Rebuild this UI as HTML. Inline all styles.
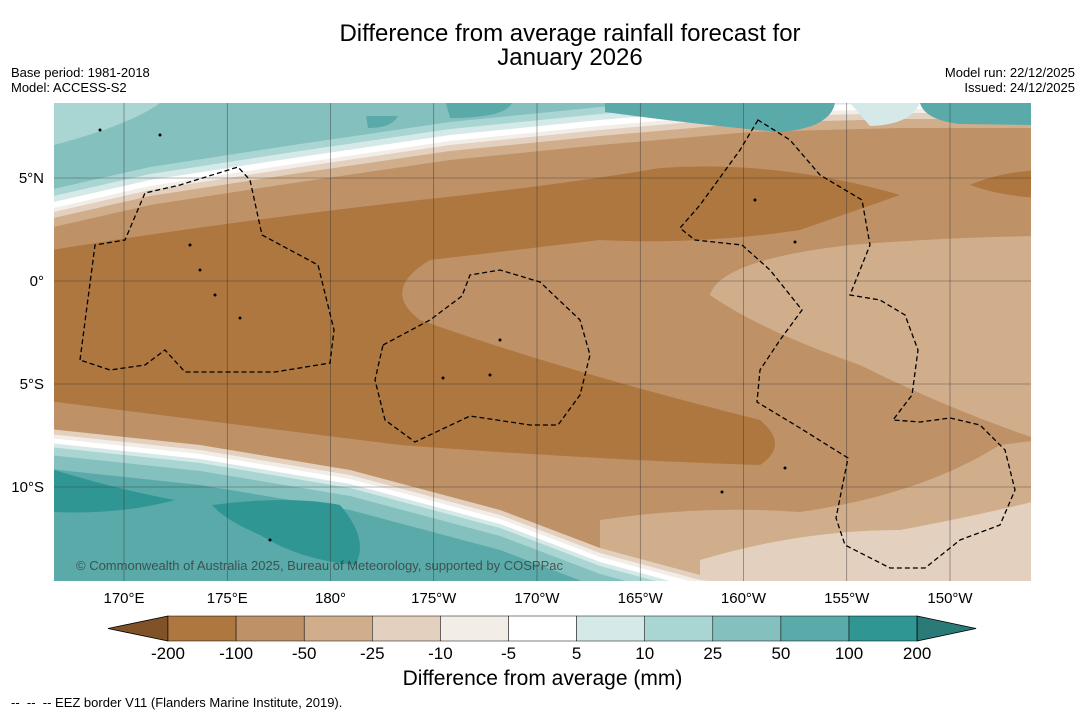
<!DOCTYPE html>
<html><head><meta charset="utf-8">
<style>
body{margin:0;background:#fff;font-family:"Liberation Sans",sans-serif;}
#wrap{position:relative;width:1085px;height:713px;overflow:hidden;background:#fff;}
.t{position:absolute;color:#000;}
</style></head>
<body>
<div id="wrap">
<div class="t" style="left:220px;top:22px;width:700px;text-align:center;font-size:24px;line-height:24px;">Difference from average rainfall forecast for<br>January 2026</div>
<div class="t" style="left:11px;top:65px;font-size:13px;line-height:15px;">Base period: 1981-2018<br>Model: ACCESS-S2</div>
<div class="t" style="right:10px;top:65px;font-size:13px;line-height:15px;text-align:right;">Model run: 22/12/2025<br>Issued: 24/12/2025</div>
<svg id="svg" width="1085" height="713" style="position:absolute;left:0;top:0"></svg>
<div class="t" style="left:250px;top:667px;width:585px;text-align:center;font-size:21px;">Difference from average (mm)</div>
<div class="t" style="left:11px;top:695px;font-size:13px;">--&nbsp; --&nbsp; -- EEZ border V11 (Flanders Marine Institute, 2019).</div>
</div>
<script>
const levels=["-200","-100","-50","-25","-10","-5","5","10","25","50","100","200"];
const colors=["#ad773f","#bf9166","#d0ae8c","#e3d0bf","#f3ede8","#ffffff","#d4e9e8","#a9d5d3","#84c0bd","#5aaaaa","#309693"];
const lowColor="#7f5228", highColor="#2a7a78";
const lonTicks=["170°E","175°E","180°","175°W","170°W","165°W","160°W","155°W","150°W"];
const lonVals=[170,175,180,185,190,195,200,205,210];
const latTicks=["5°N","0°","5°S","10°S"];
const latVals=[5,0,-5,-10];
const NS="http://www.w3.org/2000/svg";
const svgEl=document.getElementById('svg');
const X0=54,X1=1031,Y0=103,Y1=581;
const lx=l=>124+(l-170)*20.65;
const ly=l=>281-l*20.6;
function el(t,a,name){const e=document.createElementNS(NS,t);for(const k in a)e.setAttribute(k,a[k]);


svgEl.appendChild(e);return e;}
const clip=el('clipPath',{id:'mc'},'map-clip');
const cr=document.createElementNS(NS,'rect');cr.setAttribute('x',X0);cr.setAttribute('y',Y0);cr.setAttribute('width',X1-X0);cr.setAttribute('height',Y1-Y0);clip.appendChild(cr);
const mapG=el('g',{'clip-path':'url(#mc)'},'map-area');
function add(t,a,name){const e=document.createElementNS(NS,t);for(const k in a)e.setAttribute(k,a[k]);


mapG.appendChild(e);return e;}
function pts(p,dy){return p.map(q=>q[0]+','+(q[1]+dy)).join(' ');}
add('rect',{x:X0,y:Y0,width:X1-X0,height:Y1-Y0,fill:colors[1]},'map-background');
const topPts=[[40,230],[150,205],[300,182],[450,160],[600,145],[750,132],[900,128],[1040,128]];
const topBands=[[0,colors[2]],[-9,colors[3]],[-15,colors[4]],[-19,colors[5]],[-25,colors[6]],[-31,colors[7]],[-38,colors[8]]];
topBands.forEach(b=>add('polygon',{points:pts(topPts,b[0])+' 1040,90 40,90',fill:b[1]},'north-band'));
add('path',{d:'M54,103 L160,103 Q130,125 54,145 Z',fill:colors[7]},'north-light-patch');
add('path',{d:'M446,103 L512,103 Q505,118 450,118 Z',fill:colors[9]},'north-patch');
add('path',{d:'M605,103 L835,103 Q830,128 780,132 Q700,125 605,112 Z',fill:colors[9]},'north-patch');
add('path',{d:'M920,103 L1031,103 L1031,125 L960,124 Q925,120 920,103 Z',fill:colors[9]},'north-patch');
add('path',{d:'M850,103 L920,103 Q910,125 870,126 Z',fill:colors[6]},'north-patch');
add('path',{d:'M366,116 L398,116 Q392,128 368,128 Z',fill:colors[9]},'north-patch');
add('polygon',{points:pts(topPts,14)+' 1040,700 40,700',fill:colors[1]},'north-mid-brown');
const botPts=[[40,428],[200,445],[350,470],[500,510],[600,548],[700,575],[800,585],[1040,590]];
const botBands=[[0,colors[3]],[5,colors[4]],[9,colors[5]],[14,colors[6]],[18,colors[7]],[26,colors[8]],[40,colors[9]]];
add('path',{d:'M40,252 Q200,225 420,200 Q560,185 660,168 Q780,160 900,195 L800,230 Q700,245 600,240 L430,260 Q380,290 420,320 Q560,370 760,420 Q790,445 760,465 Q600,460 400,445 Q200,420 40,400 Z',fill:colors[0]},'dark-core');
add('path',{d:'M970,185 Q1000,172 1040,170 L1040,198 Q1000,196 970,185 Z',fill:colors[0]},'dark-patch');
add('path',{d:'M710,295 Q720,260 850,245 Q950,237 1040,236 L1040,440 Q950,410 860,365 Q760,330 710,295 Z',fill:colors[2]},'light-tongue');
add('path',{d:'M600,520 Q700,505 800,512 Q920,495 1000,445 L1040,440 L1040,600 L600,600 Z',fill:colors[2]},'southeast-band');
add('path',{d:'M700,560 Q800,530 900,530 Q980,515 1040,500 L1040,600 L700,600 Z',fill:colors[3]},'southeast-light');
botBands.forEach(b=>add('polygon',{points:pts(botPts,b[0])+' 1040,700 40,700',fill:b[1]},'south-band'));
add('path',{d:'M54,470 Q120,490 175,500 Q120,515 54,512 Z',fill:colors[10]},'south-dark-patch');
add('path',{d:'M212,505 Q290,495 340,505 Q370,540 355,565 Q300,560 260,535 Q225,520 212,505 Z',fill:colors[10]},'south-dark-patch');
lonVals.forEach(v=>add('line',{x1:lx(v),x2:lx(v),y1:Y0,y2:Y1,stroke:'#333','stroke-width':0.6,opacity:0.7},'grid-lon'));
latVals.forEach(v=>add('line',{x1:X0,x2:X1,y1:ly(v),y2:ly(v),stroke:'#333','stroke-width':0.6,opacity:0.7},'grid-lat'));
const eez=["M80,360 L95,245 L125,240 L145,193 L180,185 L238,167 L250,180 L262,235 L318,265 L334,330 L330,363 L275,372 L185,372 L165,350 L145,365 L110,370 Z",
"M383,345 L430,320 L462,296 L470,275 L500,270 L540,282 L580,320 L590,355 L580,395 L558,425 L530,425 L470,416 L415,442 L385,420 L375,380 Z",
"M758,120 L740,150 L700,205 L680,228 L695,240 L742,245 L770,270 L802,310 L780,340 L760,370 L757,402 L800,428 L848,458 L836,518 L845,545 L890,568 L925,568 L960,540 L1000,525 L1015,490 L1005,450 L980,425 L950,418 L920,422 L893,420 L912,395 L918,350 L905,315 L880,300 L850,295 L870,245 L862,200 L820,175 L790,140 Z"];
eez.forEach(d=>add('path',{d:d,fill:'none',stroke:'#000','stroke-width':1.3,'stroke-dasharray':'5,3'},'eez-border'));
[[190,245],[200,270],[215,295],[240,318],[500,340],[490,375],[443,378],[722,492],[755,200],[795,242],[785,468],[270,540],[100,130],[160,135]].forEach(p=>add('circle',{cx:p[0],cy:p[1],r:1.5,fill:'#000'},'island'));
const ct=add('text',{x:76,y:570,'font-size':13,fill:'#333','fill-opacity':0.75,'font-family':'Liberation Sans, sans-serif'},'copyright-text');ct.textContent='© Commonwealth of Australia 2025, Bureau of Meteorology, supported by COSPPac';
lonTicks.forEach((s,i)=>{const t=el('text',{x:lx(lonVals[i]),y:603,'font-size':15,'text-anchor':'middle','font-family':'Liberation Sans, sans-serif'},'lon-tick-label');t.textContent=s;});
latTicks.forEach((s,i)=>{const t=el('text',{x:44,y:ly(latVals[i])+5,'font-size':15,'text-anchor':'end','font-family':'Liberation Sans, sans-serif'},'lat-tick-label');t.textContent=s;});
const cbL=168,cbW=68.1,cbY=616,cbH=25;
el('polygon',{points:`108,${cbY+cbH/2} ${cbL},${cbY} ${cbL},${cbY+cbH}`,fill:lowColor,stroke:'#000','stroke-width':0.8},'colorbar-low-arrow');
colors.forEach((c,i)=>el('rect',{x:cbL+i*cbW,y:cbY,width:cbW,height:cbH,fill:c,stroke:'#000','stroke-width':0.5},'colorbar-box'));
const cbR=cbL+colors.length*cbW;
el('polygon',{points:`${cbR},${cbY} ${cbR+59},${cbY+cbH/2} ${cbR},${cbY+cbH}`,fill:highColor,stroke:'#000','stroke-width':0.8},'colorbar-high-arrow');
levels.forEach((s,i)=>{const t=el('text',{x:cbL+i*cbW,y:659,'font-size':17,'text-anchor':'middle','font-family':'Liberation Sans, sans-serif'},'colorbar-tick-label');t.textContent=s;});
</script>
</body></html>
